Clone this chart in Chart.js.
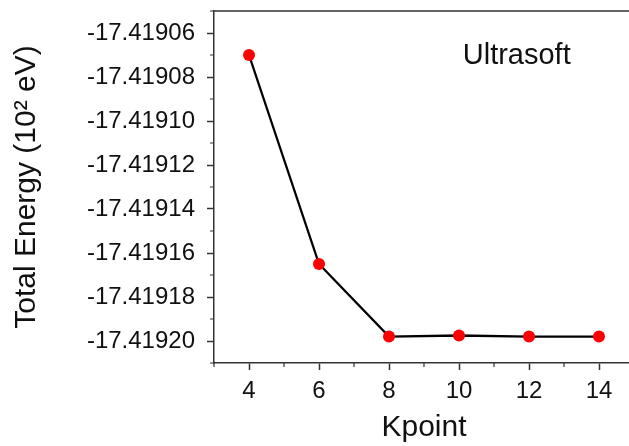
<!DOCTYPE html>
<html>
<head>
<meta charset="utf-8">
<script src="https://cdn.jsdelivr.net/npm/chart.js@4.4.1/dist/chart.umd.min.js"></script>
<style>
  html, body { margin: 0; padding: 0; overflow: hidden; background: #fff; }
</style>
</head>
<body>
<canvas id="chart" width="640" height="446"></canvas>
<script>
// data
var kpoints = [4, 6, 8, 10, 12, 14];
var energy = [-17.41907, -17.419165, -17.419198, -17.4191975, -17.419198, -17.419198];

// axes
var xTicks = [4, 6, 8, 10, 12, 14];
var yTicks = [-17.41906, -17.41908, -17.41910, -17.41912, -17.41914, -17.41916, -17.41918, -17.41920];
var xRange = [3, 15];
var yRange = [-17.41921, -17.41905];
var seriesLabel = 'Ultrasoft';

var FONT = "'Liberation Sans', Arial, sans-serif";
var AXIS = '#333';

// minor ticks sit halfway between the major ones (and at the axis ends)
function minors(ticks, range) {
    var step = ticks[1] - ticks[0];
    var out = [];
    var v = ticks[0] - step / 2;
    while (v >= Math.min(range[0], range[1]) - 1e-12) { out.push(v); v -= step; }
    for (var i = 0; i < ticks.length; i++) out.push(ticks[i] + step / 2);
    return out;
}

var framePlugin = {
    id: 'frame',
    afterDraw: function(chart) {
        var ctx = chart.ctx, a = chart.chartArea;
        var xs = chart.scales.x, ys = chart.scales.y;
        ctx.save();
        ctx.strokeStyle = AXIS;
        ctx.lineWidth = 1.5;
        ctx.beginPath();
        ctx.moveTo(a.left, a.top);
        ctx.lineTo(a.right, a.top);
        ctx.lineTo(a.right, a.bottom);
        ctx.stroke();

        ctx.lineWidth = 1.2;
        ctx.beginPath();
        minors(xTicks, xRange).forEach(function(v) {
            if (v < xRange[0] || v > xRange[1]) return;
            var px = xs.getPixelForValue(v);
            ctx.moveTo(px, a.bottom);
            ctx.lineTo(px, a.bottom + 4);
        });
        minors(yTicks.slice().reverse(), yRange).forEach(function(v) {
            if (v < yRange[0] - 1e-9 || v > yRange[1] + 1e-9) return;
            var py = ys.getPixelForValue(v);
            ctx.moveTo(a.left, py);
            ctx.lineTo(a.left - 4, py);
        });
        ctx.stroke();

        ctx.fillStyle = '#111';
        ctx.font = '29px ' + FONT;
        ctx.textAlign = 'center';
        ctx.textBaseline = 'middle';
        ctx.fillText(seriesLabel, xs.getPixelForValue(11.65), ys.getPixelForValue(-17.4190705));
        ctx.restore();
    }
};

new Chart(document.getElementById('chart'), {
    type: 'line',
    data: {
        datasets: [{
            data: kpoints.map(function(k, i) { return { x: k, y: energy[i] }; }),
            borderColor: '#000',
            borderWidth: 2.3,
            pointRadius: 6,
            pointBackgroundColor: '#ff0000',
            pointBorderWidth: 0,
            tension: 0
        }]
    },
    options: {
        responsive: false,
        animation: false,
        layout: { padding: { top: 11, right: 3, left: 0, bottom: 0 } },
        plugins: { legend: { display: false }, tooltip: { enabled: false } },
        scales: {
            x: {
                type: 'linear',
                min: xRange[0],
                max: xRange[1],
                afterBuildTicks: function(s) { s.ticks = xTicks.map(function(v) { return { value: v }; }); },
                afterFit: function(s) { s.height = 83; s.paddingLeft = 0; s.paddingRight = 0; },
                grid: { drawOnChartArea: false, tickLength: 7, tickWidth: 1.5, color: AXIS },
                border: { display: true, color: AXIS, width: 1.5 },
                ticks: { font: { family: FONT, size: 24 }, color: '#111', padding: 7, maxRotation: 0, autoSkip: false },
                title: { display: true, text: 'Kpoint', font: { family: FONT, size: 30 }, color: '#111', padding: { top: 0, bottom: 0 } }
            },
            y: {
                type: 'linear',
                min: yRange[0],
                max: yRange[1],
                afterBuildTicks: function(s) { s.ticks = yTicks.map(function(v) { return { value: v }; }); },
                afterFit: function(s) { s.width = 214; s.paddingTop = 0; s.paddingBottom = 0; },
                grid: { drawOnChartArea: false, tickLength: 7, tickWidth: 1.5, color: AXIS },
                border: { display: true, color: AXIS, width: 1.5 },
                ticks: {
                    font: { family: FONT, size: 24 }, color: '#111', padding: 12, autoSkip: false,
                    callback: function(v) { return v.toFixed(5); }
                },
                title: { display: true, text: 'Total Energy (10\u00B2 eV)', font: { family: FONT, size: 30 }, color: '#111', padding: { top: 9, bottom: 0 } }
            }
        }
    },
    plugins: [framePlugin]
});
</script>
</body>
</html>
